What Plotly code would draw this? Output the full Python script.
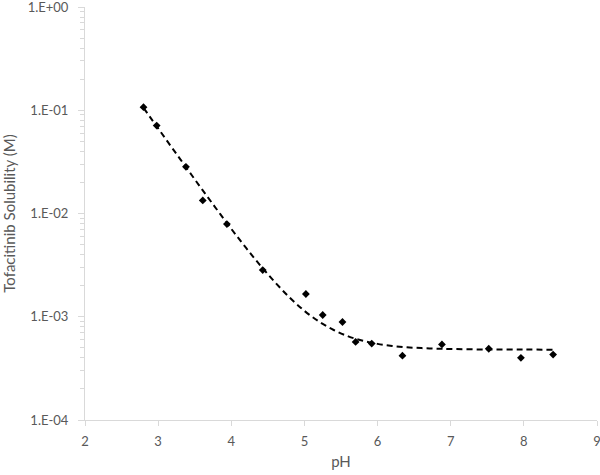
"""
Tofacitinib solubility vs pH - measured points + fitted curve
"""
import plotly.graph_objects as go

ph_measured = [2.80, 2.98, 3.38, 3.61, 3.94, 4.43, 5.02, 5.25, 5.52, 5.70, 5.92, 6.34, 6.88, 7.52, 7.96, 8.40]
sol_measured = [0.107, 0.071, 0.0283, 0.0134, 0.0079, 0.00283, 0.00166, 0.00104, 0.00089,
                0.00057, 0.00055, 0.00042, 0.00054, 0.00049, 0.00040, 0.00043]

# fitted curve (dashed)
ph_fit = [2.8, 3.0, 3.2, 3.4, 3.6, 3.8, 4.0, 4.2, 4.4, 4.6, 4.8, 5.0, 5.2, 5.4, 5.6,
          5.8, 6.0, 6.2, 6.4, 6.6, 6.8, 7.0, 7.5, 8.0, 8.4]
sol_fit = [0.1055, 0.0667, 0.0423, 0.0269, 0.0171, 0.0110, 0.00710, 0.00466, 0.00312,
           0.00215, 0.00153, 0.00114, 0.000898, 0.000744, 0.000646, 0.000585, 0.000546,
           0.000522, 0.000506, 0.000497, 0.000491, 0.000487, 0.000482, 0.000481, 0.000480]

# y ticks
y_tickvals = [1e-4, 1e-3, 1e-2, 1e-1, 1e0]
y_ticktext = ['1.E-04', '1.E-03', '1.E-02', '1.E-01', '1.E+00']
x_tickvals = [2, 3, 4, 5, 6, 7, 8, 9]

# minor ticks (2..9 in each decade)
minor_vals = [m * 10.0 ** e for e in range(-4, 0) for m in range(2, 10)]

axis_color = '#d9d9d9'
text_color = '#595959'

fig = go.Figure()

fig.add_trace(go.Scatter(
    x=ph_fit,
    y=sol_fit,
    mode='lines',
    line=dict(color='#000000', width=2, dash='6px,4px'),
    line_shape='spline',
    showlegend=False
))

fig.add_trace(go.Scatter(
    x=ph_measured,
    y=sol_measured,
    mode='markers',
    marker=dict(symbol='diamond', size=6, color='#000000'),
    showlegend=False
))

fig.update_layout(
    width=600,
    height=475,
    paper_bgcolor='white',
    plot_bgcolor='white',
    font=dict(family='Lato, sans-serif', color=text_color, size=13),
    margin=dict(l=85, r=3, t=7, b=55),
    xaxis=dict(
        range=[2, 9],
        tickvals=x_tickvals,
        showgrid=False,
        zeroline=False,
        showline=True,
        linecolor=axis_color,
        linewidth=1,
        ticks='outside',
        ticklen=5,
        tickcolor=axis_color,
        ticklabelstandoff=4,
        ticklabeloverflow='allow',
        automargin=False,
        title=dict(text='pH', font=dict(size=15), standoff=8)
    ),
    yaxis=dict(
        type='log',
        range=[-4, 0],
        tickvals=y_tickvals,
        ticktext=y_ticktext,
        showgrid=False,
        zeroline=False,
        showline=True,
        linecolor=axis_color,
        linewidth=1,
        ticks='outside',
        ticklen=6,
        tickcolor=axis_color,
        ticklabelstandoff=7,
        ticklabeloverflow='allow',
        automargin=False,
        minor=dict(tickmode='array', tickvals=minor_vals, ticks='outside',
                   ticklen=4, tickcolor=axis_color, showgrid=False),
        title=dict(text='Tofacitinib Solubility (M)', font=dict(size=15), standoff=8)
    )
)

# page body has an 8px default margin; drop it so the chart sits at the corner
fig.write_html("out.html", config={'displayModeBar': False},
               post_script="document.body.style.margin='0';")
